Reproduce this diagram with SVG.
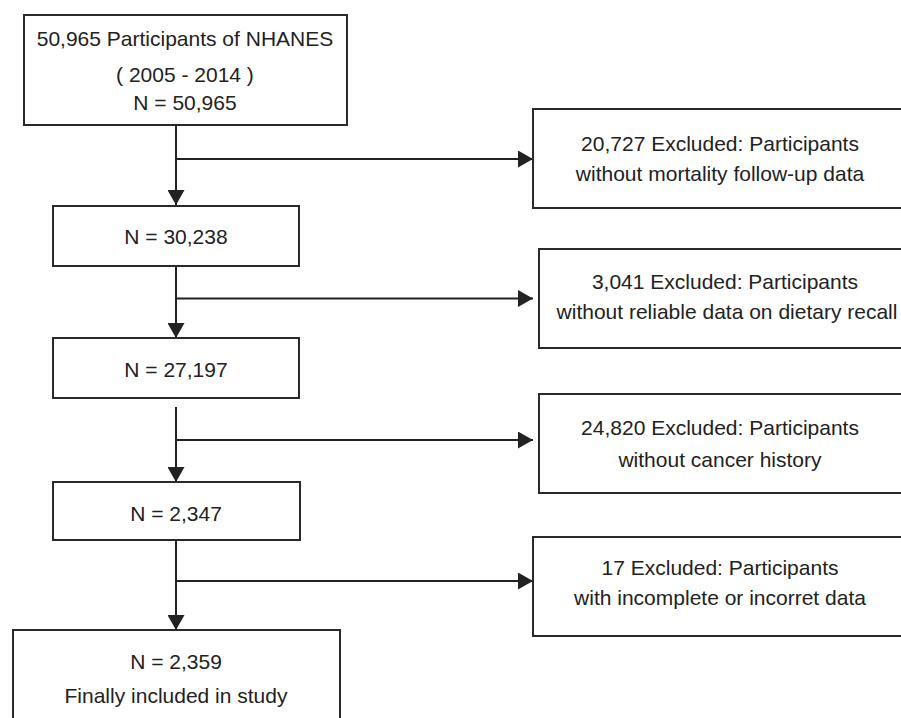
<svg xmlns="http://www.w3.org/2000/svg" width="901" height="718" viewBox="0 0 901 718">
<style>
.box{fill:#fff;stroke:#2a2a2a;stroke-width:2}
.t{font-family:"Liberation Sans",Arial,sans-serif;font-size:21px;fill:#222;text-anchor:middle}
.c{fill:none;stroke:#222;stroke-width:2}
</style>
<defs>
<marker id="ah" markerUnits="userSpaceOnUse" markerWidth="15" markerHeight="17" refX="15" refY="8.5" orient="auto">
<path d="M0,0 L15,8.5 L0,17 Z" fill="#222"/>
</marker>
</defs>
<rect width="901" height="718" fill="#fff"/>
<g id="connectors">
<path class="c" d="M176,125 V205" marker-end="url(#ah)"/>
<path class="c" d="M176,159 H533" marker-end="url(#ah)"/>
<path class="c" d="M176,266 V338" marker-end="url(#ah)"/>
<path class="c" d="M176,298.5 H533" marker-end="url(#ah)"/>
<path class="c" d="M176,407 V482" marker-end="url(#ah)"/>
<path class="c" d="M176,440 H533" marker-end="url(#ah)"/>
<path class="c" d="M176,540 V630" marker-end="url(#ah)"/>
<path class="c" d="M176,581 H533" marker-end="url(#ah)"/>
</g>
<g id="n1">
<rect class="box" x="24" y="15" width="323" height="110"/>
<text class="t" x="185" y="46">50,965 Participants of NHANES</text>
<text class="t" x="185" y="82">( 2005 - 2014 )</text>
<text class="t" x="185" y="110">N = 50,965</text>
</g>
<g id="n2">
<rect class="box" x="53" y="206" width="246" height="60"/>
<text class="t" x="176" y="244">N = 30,238</text>
</g>
<g id="n3">
<rect class="box" x="53" y="338" width="246" height="60"/>
<text class="t" x="176" y="377">N = 27,197</text>
</g>
<g id="n4">
<rect class="box" x="53" y="482" width="247" height="58"/>
<text class="t" x="176" y="521">N = 2,347</text>
</g>
<g id="n5">
<rect class="box" x="13" y="630" width="327" height="100"/>
<text class="t" x="176" y="669">N = 2,359</text>
<text class="t" x="176" y="703">Finally included in study</text>
</g>
<g id="e1">
<rect class="box" x="533" y="109" width="380" height="99"/>
<text class="t" x="720" y="151">20,727 Excluded: Participants</text>
<text class="t" x="720" y="181">without mortality follow-up data</text>
</g>
<g id="e2">
<rect class="box" x="539" y="249" width="380" height="99"/>
<text class="t" x="725" y="289">3,041 Excluded: Participants</text>
<text class="t" x="727" y="319">without reliable data on dietary recall</text>
</g>
<g id="e3">
<rect class="box" x="539" y="394" width="380" height="99"/>
<text class="t" x="720" y="435">24,820 Excluded: Participants</text>
<text class="t" x="720" y="467">without cancer history</text>
</g>
<g id="e4">
<rect class="box" x="533" y="537" width="380" height="99"/>
<text class="t" x="720" y="575">17 Excluded: Participants</text>
<text class="t" x="720" y="605">with incomplete or incorret data</text>
</g>
</svg>
